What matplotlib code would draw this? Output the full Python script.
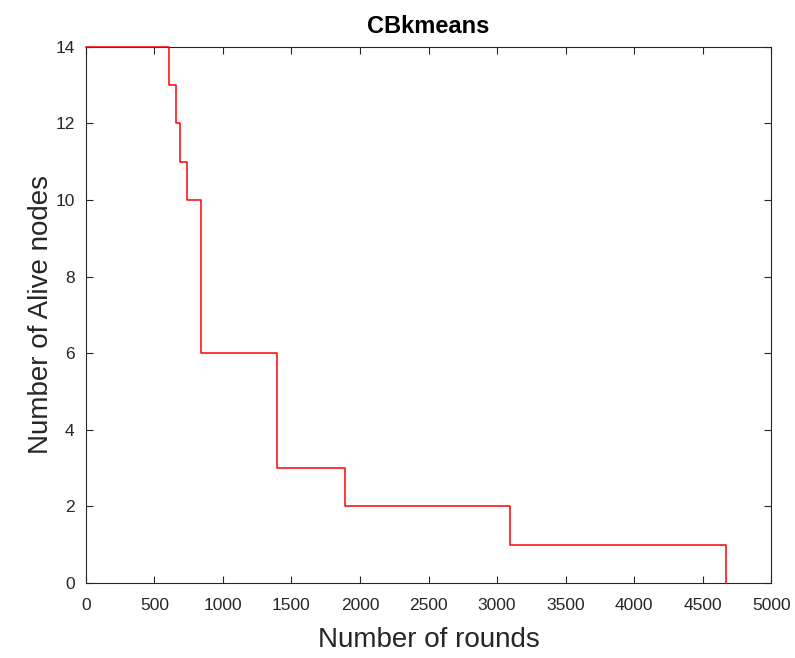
import matplotlib
matplotlib.use("Agg")
import matplotlib.pyplot as plt

plt.rcParams['font.family'] = ['Liberation Sans', 'DejaVu Sans']

# round at which each step ends, and the alive-node count held until then
rounds = [0, 606, 655, 686, 737, 842, 1394, 1890, 3095, 4670, 4670]
alive = [14, 13, 12, 11, 10, 6, 3, 2, 1, 0, 0]

fig = plt.figure(figsize=(7.95, 6.58), dpi=100)
ax = fig.add_axes([0.108, 0.114, 0.862, 0.815])

ax.step(rounds, [14] + alive[:-1], where='pre', color='red', linewidth=1.1,
        clip_on=False, zorder=5)

ax.set_xlim(0, 5000)
ax.set_ylim(0, 14)
ax.set_xticks(range(0, 5001, 500))
ax.set_yticks(range(0, 15, 2))
ax.tick_params(direction='in', top=True, right=True, labelsize=12.5, colors='#262626', length=5)
ax.tick_params(axis='x', pad=11)
ax.tick_params(axis='y', pad=8)
for s in ax.spines.values():
    s.set_color('#262626')
    s.set_linewidth(0.8)

ax.set_xlabel('Number of rounds', fontsize=20, color='#262626', labelpad=10)
ax.set_ylabel('Number of Alive nodes', fontsize=20, color='#262626', labelpad=1)
ax.set_title('CBkmeans', fontsize=17, fontweight='bold', pad=10)

fig.savefig('out.png', dpi=100)
